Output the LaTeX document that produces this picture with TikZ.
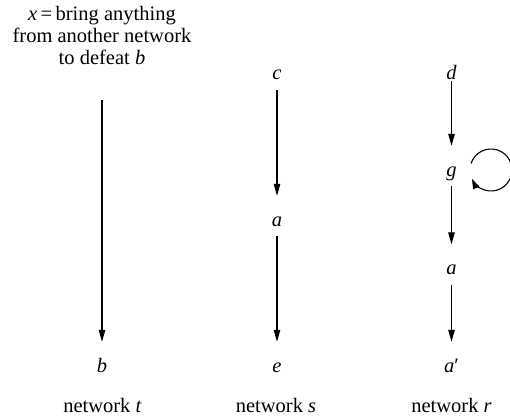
\documentclass[tikz,border=0pt]{standalone}
\usepackage{fontspec}
\setmainfont{Liberation Serif}
\usetikzlibrary{arrows.meta}
\begin{document}
\begin{tikzpicture}[x=1pt,y=1pt,
  every node/.style={font=\fontsize{20.5}{22}\selectfont},
  letter/.style={anchor=base,inner sep=0pt,text height=30pt,text depth=10pt},
  netlabel/.style={anchor=base,inner sep=0pt},
  arr/.style={line width=1.1pt,-{Triangle[length=12pt,width=6.5pt]}},
  looparr/.style={line width=1.1pt,-{Triangle[length=10pt,width=6.5pt]}}]
\useasboundingbox (0,0) rectangle (510,418);
% top text
\node[align=center,inner sep=0pt] (xt) at (102,382.4) {\textit{x}\,=\,bring anything\\from another network\\to defeat \textit{b}};
% column t
\node[letter] (b) at (102,46) {\textit{b}};
% column s
\node[letter] (c) at (277,338) {\textit{c}};
\node[letter] (as) at (277,192) {\textit{a}};
\node[letter] (e) at (277,46) {\textit{e}};
% column r
\node[letter] (d) at (451.5,338) {\textit{d}};
\node[letter] (g) at (451.5,242) {\textit{g}};
\node[letter] (ar) at (451.5,143.5) {\textit{a}};
\node[letter] (ap) at (451.5,46) {\textit{a}′};
% network labels
\node[netlabel] (nt) at (102.5,6) {network \textit{t}};
\node[netlabel] (ns) at (276,6) {network \textit{s}};
\node[netlabel] (nr) at (451.5,6) {network \textit{r}};
% arrows
\draw[arr,shorten <=35pt] (xt.south -| b) -- (b);
\draw[arr] (c) -- (as);
\draw[arr] (as) -- (e);
\draw[arr,shorten <=-9pt] (d) -- (g);
\draw[arr] (g) -- (ar);
\draw[arr] (ar) -- (ap);
% self loop
\coordinate (gl) at (491,248);
\draw[looparr] (gl) ++(162:21) arc[start angle=162,end angle=-155,radius=21];
\end{tikzpicture}
\end{document}
